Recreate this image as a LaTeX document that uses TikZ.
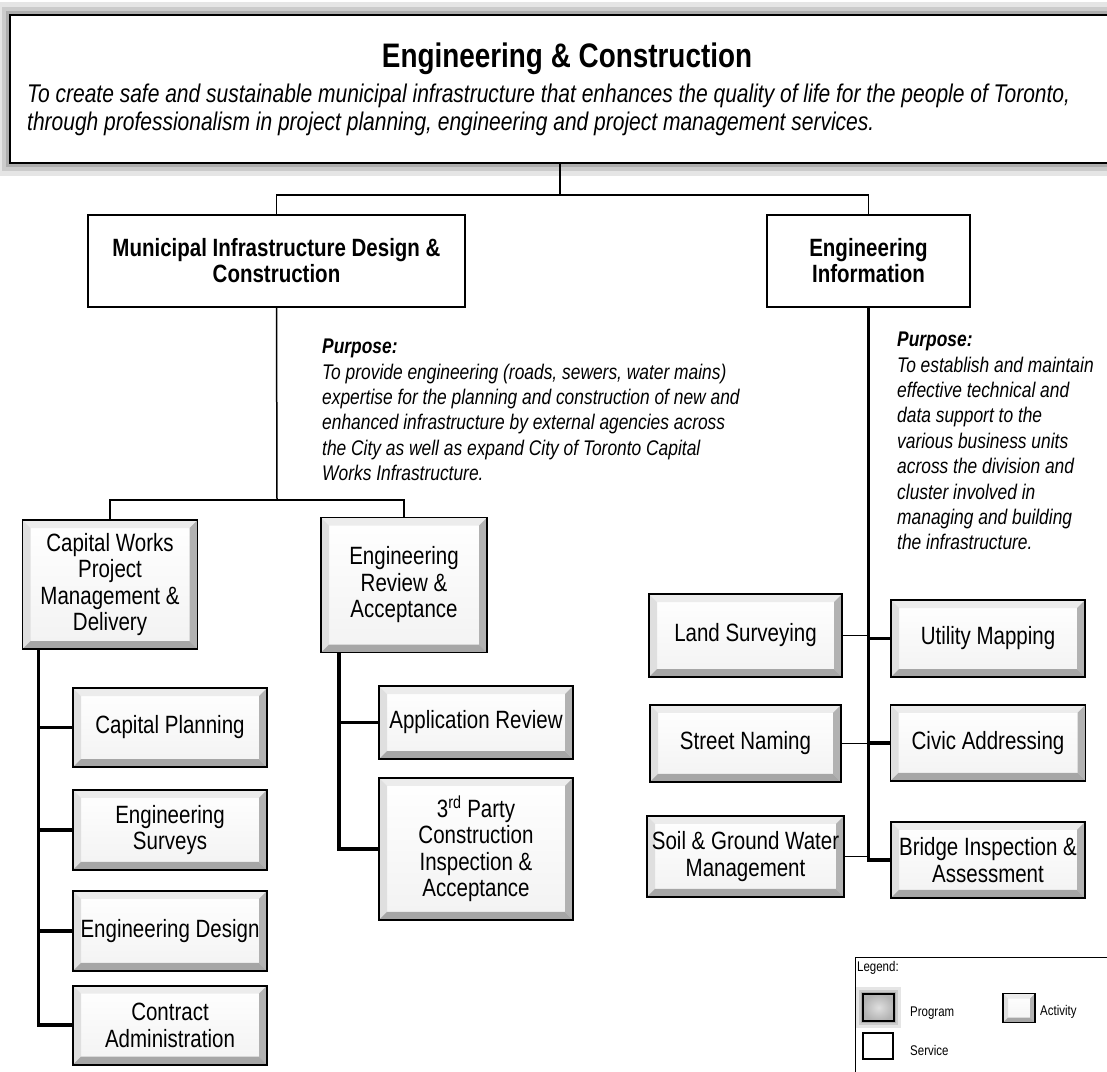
\documentclass[tikz,border=0pt]{standalone}
\usepackage{fontspec}
\setmainfont[FakeStretch=0.82]{Liberation Sans}
\usetikzlibrary{positioning}

\begin{document}
\begin{tikzpicture}[x=1pt, y=-1pt,
  node distance=20pt and 20pt,
  svcnode/.style={draw, line width=1.2pt, fill=white, align=center, inner sep=0pt,
    font=\bfseries\fontsize{25}{26}\selectfont},
  actnode/.style={draw, line width=1.9pt, top color=white, bottom color=gray!10,
    bevel=8pt, align=center, inner sep=0pt, font=\fontsize{25}{26.5}\selectfont},
  prognode/.style={draw, line width=1.5pt, fill=white, glow=#1},
  glow/.style={preaction={draw=gray, line width=#1, opacity=.2},
    preaction={draw=gray, line width=0.6*#1, opacity=.25},
    preaction={draw=gray, line width=0.3*#1, opacity=.4}},
  purpose/.style={align=left, inner sep=0pt, anchor=north west,
    font=\itshape\fontsize{21.2}{25.4}\selectfont},
  legtext/.style={anchor=west, inner sep=0pt, font=\fontsize{14}{16}\selectfont},
  link/.style={line width=1.5pt},
  trunk/.style={line width=3.5pt},
  bevel/.style={path picture={
    \path (path picture bounding box.north west) coordinate (bnw)
          (path picture bounding box.north east) coordinate (bne)
          (path picture bounding box.south west) coordinate (bsw)
          (path picture bounding box.south east) coordinate (bse);
    \fill[gray!15] (bnw) -- (bne) -- ([shift={(-#1,-#1)}]bne) -- ([shift={(#1,-#1)}]bnw) -- cycle;
    \fill[gray!25] (bnw) -- (bsw) -- ([shift={(#1,#1)}]bsw) -- ([shift={(#1,-#1)}]bnw) -- cycle;
    \fill[gray!60] (bne) -- (bse) -- ([shift={(-#1,#1)}]bse) -- ([shift={(-#1,-#1)}]bne) -- cycle;
    \fill[gray!70] (bsw) -- (bse) -- ([shift={(-#1,#1)}]bse) -- ([shift={(#1,#1)}]bsw) -- cycle;
  }},
]
\useasboundingbox (0,0) rectangle (1107,1071);
\fill[white] (0,0) rectangle (1107,1071);
\clip (0,0) rectangle (1107,1071);

% division
\node[prognode=26pt, minimum width=1110pt, minimum height=148pt] (ec) at (565,89) {};
\node[font=\bfseries\fontsize{34}{36}\selectfont] (title) at (567,59) {Engineering \& Construction};
\node[anchor=north west, align=left, inner sep=0pt, font=\itshape\fontsize{25.6}{28}\selectfont] (mission) at (27,84)
  {To create safe and sustainable municipal infrastructure that enhances the quality of life for the people of Toronto,\\
   through professionalism in project planning, engineering and project management services.};

% programs
\node[svcnode, minimum width=377pt, minimum height=92pt] (midc) at (276.5,261)
  {Municipal Infrastructure Design \&\\Construction};
\node[svcnode, minimum width=203pt, minimum height=92pt] (ei) at (868.5,261)
  {Engineering\\Information};

\node[purpose] (midcp) at (322,339) {\textbf{Purpose:}\\
  To provide engineering (roads, sewers, water mains)\\
  expertise for the planning and construction of new and\\
  enhanced infrastructure by external agencies across\\
  the City as well as expand City of Toronto Capital\\
  Works Infrastructure.};
\node[purpose] (eip) at (897,332) {\textbf{Purpose:}\\
  To establish and maintain\\
  effective technical and\\
  data support to the\\
  various business units\\
  across the division and\\
  cluster involved in\\
  managing and building\\
  the infrastructure.};

% services
\node[actnode, minimum width=175pt, minimum height=129pt] (cw) at (110,584.5)
  {Capital Works\\Project\\Management \&\\Delivery};
\node[actnode, minimum width=166pt, minimum height=135pt] (er) at (404,585)
  {Engineering\\Review \&\\Acceptance};

% activities
\node[actnode, minimum width=194pt, minimum height=79pt] (cp) at (170,727.5) {Capital Planning};
\node[actnode, minimum width=194pt, minimum height=80pt, below=21pt of cp] (es) {Engineering\\Surveys};
\node[actnode, minimum width=194pt, minimum height=80pt, below=19pt of es] (ed) {Engineering Design};
\node[actnode, minimum width=194pt, minimum height=79pt, below=13pt of ed] (ca) {Contract\\Administration};

\node[actnode, minimum width=194pt, minimum height=73pt] (ar) at (476,722.5) {Application Review};
\node[actnode, minimum width=194pt, minimum height=142pt, below=17pt of ar] (tp)
  {3\textsuperscript{rd} Party\\Construction\\Inspection \&\\Acceptance};

\node[actnode, minimum width=193pt, minimum height=83pt] (ls) at (745.5,635.5) {Land Surveying};
\node[actnode, minimum width=191pt, minimum height=77pt, below=26pt of ls] (sn) {Street Naming};
\node[actnode, minimum width=197pt, minimum height=81pt, below=32pt of sn] (sg) {Soil \& Ground Water\\Management};
\node[actnode, minimum width=194pt, minimum height=77pt] (um) at (988,638.5) {Utility Mapping};
\node[actnode, minimum width=195pt, minimum height=76pt, below=26pt of um] (cva) {Civic Addressing};
\node[actnode, minimum width=194pt, minimum height=76pt, below=39pt of cva] (bi) {Bridge Inspection \&\\Assessment};

% connectors
\coordinate (j1) at (560,195);
\coordinate (j2) at (277,500);
\draw[link] (ec.south -| j1) -- (j1);
\draw[link] (midc.north) |- (j1) -| (ei.north);
\draw[link] (midc.south) -- (j2);
\draw[link] (cw.north) |- (j2) -| (er.north);

\coordinate (cwt) at ([xshift=17pt]cw.south west);
\draw[trunk] (cwt) |- (ca.west);
\foreach \n in {cp,es,ed} \draw[trunk] (\n.west) -- (\n.west -| cwt);

\coordinate (ert) at ([xshift=19pt]er.south west);
\draw[trunk] (ert) |- (tp.west);
\draw[trunk] (ar.west) -- (ar.west -| ert);

\draw[trunk] (ei.south) |- (bi.west);
\foreach \n in {um,cva} \draw[trunk] (\n.west) -- (\n.west -| ei.south);
\foreach \n in {ls,sn,sg} \draw[link] (\n.east) -- (\n.east -| ei.south);

% legend
\node[draw, line width=1pt, minimum width=265pt, minimum height=123pt] (legend) at (987.5,1018.5) {};
\node[legtext] (legt) at (857,968) {Legend:};
\node[draw, line width=1.5pt, inner color=gray!25, outer color=gray!60, glow=14pt,
  minimum width=31pt, minimum height=27pt] (legp) at (878.5,1007.5) {};
\node[legtext] (legpt) at (910,1013) {Program};
\node[actnode, bevel=5pt, minimum width=32pt, minimum height=29pt] (lega) at (1019,1008) {};
\node[legtext] (legat) at (1040,1012) {Activity};
\node[draw, line width=1.2pt, fill=white, minimum width=30pt, minimum height=26pt] (legs) at (878,1046) {};
\node[legtext] (legst) at (910,1050) {Service};
\end{tikzpicture}
\end{document}
